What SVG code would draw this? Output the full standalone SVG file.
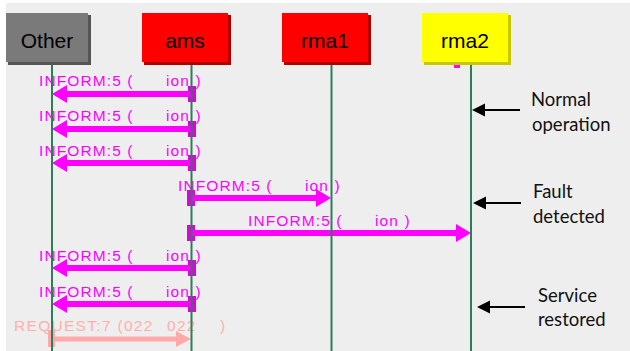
<svg xmlns="http://www.w3.org/2000/svg" width="630" height="351" viewBox="0 0 630 351">
  <style>
    .lbl { font-family: "Liberation Sans", Arial, sans-serif; font-size: 15.5px; letter-spacing: 1.1px; fill: #ff00ff; }
    .req { font-family: "Liberation Sans", Arial, sans-serif; font-size: 15.5px; letter-spacing: 1.3px; fill: #ffb0aa; }
    .box { font-family: "Liberation Sans", Arial, sans-serif; font-size: 21px; fill: #000; text-anchor: middle; }
    .note { font-family: Lato, "Open Sans", sans-serif; font-size: 18.5px; fill: #111; }
    .life { stroke: #2e7d5a; stroke-width: 2; }
    .msg { stroke: #ff00ff; stroke-width: 6; fill: none; }
    .bar { fill: #e000e0; }
    .black { stroke: #000; stroke-width: 2; fill: none; }
  </style>
  <defs>
    <marker id="mh" markerUnits="userSpaceOnUse" markerWidth="16" markerHeight="18" refX="0" refY="9" orient="auto" overflow="visible">
      <path d="M0,0 L15,9 L0,18 z" fill="#ff00ff"/>
    </marker>
    <marker id="ph" markerUnits="userSpaceOnUse" markerWidth="16" markerHeight="18" refX="0" refY="8" orient="auto" overflow="visible">
      <path d="M0,0 L15,8 L0,16 z" fill="#ffaaaa"/>
    </marker>
    <marker id="bh" markerUnits="userSpaceOnUse" markerWidth="14" markerHeight="13" refX="0" refY="6.5" orient="auto" overflow="visible">
      <path d="M0,0 L13,6.5 L0,13 z" fill="#000"/>
    </marker>
  </defs>

  <rect x="0" y="0" width="630" height="351" fill="#ffffff"/>
  <rect x="6" y="3" width="624" height="348" fill="#eeeeee"/>

  <g id="connectors">
    <rect class="bar" x="188" y="86" width="8" height="16"/>
    <rect class="bar" x="188" y="121" width="8" height="16"/>
    <rect class="bar" x="188" y="155" width="8" height="16"/>
    <rect class="bar" x="187" y="190" width="8" height="16"/>
    <rect class="bar" x="187" y="225" width="8" height="16"/>
    <rect class="bar" x="188" y="260" width="8" height="16"/>
    <rect class="bar" x="188" y="296" width="8" height="16"/>
    <rect x="48" y="330" width="7" height="17" fill="#ffaaaa"/>

    <line class="msg" x1="192" y1="94" x2="67" y2="94" marker-end="url(#mh)"/>
    <line class="msg" x1="192" y1="129" x2="67" y2="129" marker-end="url(#mh)"/>
    <line class="msg" x1="192" y1="163" x2="67" y2="163" marker-end="url(#mh)"/>
    <line class="msg" x1="191" y1="198" x2="316" y2="198" marker-end="url(#mh)"/>
    <line class="msg" x1="191" y1="233" x2="456" y2="233" marker-end="url(#mh)"/>
    <line class="msg" x1="192" y1="268" x2="67" y2="268" marker-end="url(#mh)"/>
    <line class="msg" x1="192" y1="304" x2="67" y2="304" marker-end="url(#mh)"/>
    <line x1="52" y1="339" x2="176" y2="339" stroke="#ffaaaa" stroke-width="5" marker-end="url(#ph)"/>

    <text class="lbl" x="39" y="86">INFORM:5 (<tspan x="166">ion )</tspan></text>
    <text class="lbl" x="39" y="121">INFORM:5 (<tspan x="166">ion )</tspan></text>
    <text class="lbl" x="39" y="156">INFORM:5 (<tspan x="166">ion )</tspan></text>
    <text class="lbl" x="178" y="191">INFORM:5 (<tspan x="305">ion )</tspan></text>
    <text class="lbl" x="248" y="226">INFORM:5 (<tspan x="375">ion )</tspan></text>
    <text class="lbl" x="39" y="261">INFORM:5 (<tspan x="166">ion )</tspan></text>
    <text class="lbl" x="39" y="297">INFORM:5 (<tspan x="166">ion )</tspan></text>
    <text class="req" x="14" y="331">REQUEST:7 (022<tspan x="167">022</tspan><tspan x="220">)</tspan></text>

    <rect x="454" y="65" width="6" height="3" fill="#ff00ff"/>

    <line class="black" x1="520" y1="110" x2="485" y2="110" marker-end="url(#bh)"/>
    <line class="black" x1="521" y1="203" x2="486" y2="203" marker-end="url(#bh)"/>
    <line class="black" x1="525" y1="307" x2="490" y2="307" marker-end="url(#bh)"/>
  </g>

  <g id="node-other">
    <rect x="8" y="15" width="83" height="50" fill="#555555"/>
    <rect x="6" y="13" width="82" height="49" fill="#7a7a7a"/>
    <text class="box" x="47" y="48">Other</text>
    <line class="life" x1="52" y1="65" x2="52" y2="351"/>
  </g>
  <g id="node-ams">
    <rect x="144" y="15" width="87" height="50" fill="#b00000"/>
    <rect x="142" y="13" width="86" height="49" fill="#ff0000"/>
    <text class="box" x="185" y="48">ams</text>
    <line class="life" x1="191.5" y1="65" x2="191.5" y2="351"/>
  </g>
  <g id="node-rma1">
    <rect x="284" y="15" width="87" height="50" fill="#b00000"/>
    <rect x="282" y="13" width="86" height="49" fill="#ff0000"/>
    <text class="box" x="325" y="48">rma1</text>
    <line class="life" x1="331.5" y1="65" x2="331.5" y2="351"/>
  </g>
  <g id="node-rma2">
    <rect x="424" y="15" width="87" height="50" fill="#c8c800"/>
    <rect x="422" y="13" width="86" height="49" fill="#ffff00"/>
    <text class="box" x="465" y="48">rma2</text>
    <line class="life" x1="471" y1="65" x2="471" y2="351"/>
  </g>

  <g id="note-normal">
    <text class="note" x="531" y="106">Normal</text>
    <text class="note" x="532" y="131">operation</text>
  </g>
  <g id="note-fault">
    <text class="note" x="533" y="198">Fault</text>
    <text class="note" x="533" y="223">detected</text>
  </g>
  <g id="note-service">
    <text class="note" x="538" y="302">Service</text>
    <text class="note" x="538" y="326">restored</text>
  </g>
</svg>
